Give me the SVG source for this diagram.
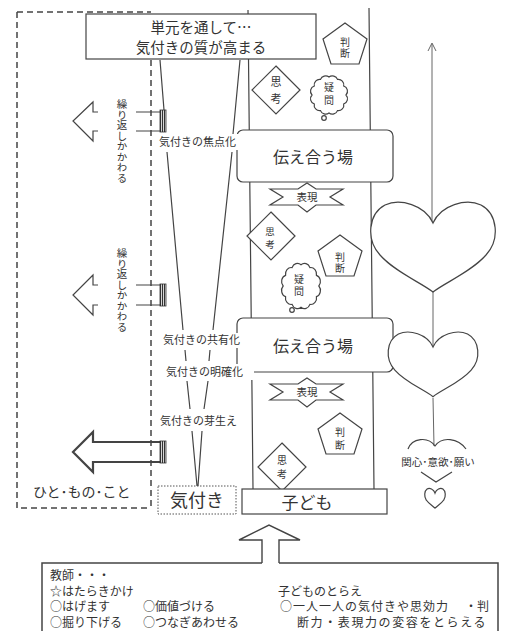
<svg xmlns="http://www.w3.org/2000/svg" xmlns:xlink="http://www.w3.org/1999/xlink" width="507" height="631" viewBox="0 0 507 631">
<style>
.ln{stroke:#444;stroke-width:1.2;fill:none}
.thin{stroke:#666;stroke-width:1;fill:none}
.box{fill:#fff;stroke:#444;stroke-width:1.2}
.shp{fill:#fff;stroke:#444;stroke-width:1.2}
.dash{stroke:#444;stroke-width:1.5;stroke-dasharray:6 4;fill:none}
.t{font-family:"Noto Sans CJK JP","Noto Sans CJK SC",sans-serif;fill:#333}
.c{text-anchor:middle}
.v{writing-mode:vertical-rl}
.wb{fill:#fff;stroke:none}
</style>
<defs>
<pattern id="hatch" width="2" height="4" patternUnits="userSpaceOnUse"><rect width="1.2" height="4" fill="#333"/></pattern>
<path id="heart" vector-effect="non-scaling-stroke" d="M0,0 C-8,-18 -33,-25 -48,-18 C-65,-9 -67,17 -53,32 C-38,49 -13,59 0,69 C13,59 38,49 53,32 C67,17 65,-9 48,-18 C33,-25 8,-18 0,0 Z"/>
<path id="cloud" vector-effect="non-scaling-stroke" d="M17,0 A5.5,5.5 0 0 1 14.7,9 A5.5,5.5 0 0 1 8.5,15.6 A5.5,5.5 0 0 1 0,18 A5.5,5.5 0 0 1 -8.5,15.6 A5.5,5.5 0 0 1 -14.7,9 A5.5,5.5 0 0 1 -17,0 A5.5,5.5 0 0 1 -14.7,-9 A5.5,5.5 0 0 1 -8.5,-15.6 A5.5,5.5 0 0 1 0,-18 A5.5,5.5 0 0 1 8.5,-15.6 A5.5,5.5 0 0 1 14.7,-9 A5.5,5.5 0 0 1 17,0 Z"/>
<path id="diamond" d="M0,-24 L24,0 L0,24 L-24,0 Z"/>
<path id="penta" d="M0,0 L22,16 L14,41 L-14,41 L-22,16 Z"/>
<path id="ribbon" d="M-37,-8 L-9,-8 L0,-14 L9,-8 L36,-8 L23,0 L36,8 L9,8 L0,15 L-9,8 L-37,8 L-24,0 Z"/>
</defs>

<g id="frame">
<path class="dash" d="M17,12 L151,12 M17,12 L17,508 L151,508 M151,60 L151,508"/>
</g>

<g id="column">
<path class="ln" d="M248,10 L253,489 M369,8 L374,489"/>
</g>

<g id="connectors">
<path class="ln" d="M160,60 L164,110 M240,60 L233,134 M167,152 L183,330 M232,152 L213,330 M185,350 L186,361 M210,350 L209,361 M187,381 L190,409 M208,381 L204,409 M192,431 L197,486 M202,431 L198,486"/>
<path class="thin" d="M432,44 L432,223 M428,51 L432,43 L436,51 M433,292 L433,347 M433,398 L434,446"/>
</g>

<g id="top-box">
<rect class="box" x="86" y="14" width="230" height="45"/>
<text class="t c" x="201" y="33" font-size="14.5">単元を通して…</text>
<text class="t c" x="201" y="53" font-size="14.5">気付きの質が高まる</text>
</g>

<g id="tsutae1">
<rect class="box" x="237" y="130" width="156" height="52" rx="6"/>
<text class="t c" x="313" y="163" font-size="16">伝え合う場</text>
</g>

<g id="tsutae2">
<rect class="box" x="237" y="318" width="156" height="54" rx="6"/>
<text class="t c" x="313" y="352" font-size="16">伝え合う場</text>
</g>

<g id="labels">
<rect class="wb" x="157" y="134" width="82" height="16"/>
<text class="t" x="159" y="146" font-size="11">気付きの焦点化</text>
<rect class="wb" x="161" y="333" width="82" height="15"/>
<text class="t" x="163" y="344" font-size="11">気付きの共有化</text>
<rect class="wb" x="164" y="364" width="90" height="16"/>
<text class="t" x="166" y="376" font-size="11">気付きの明確化</text>
<text class="t" x="160" y="425" font-size="11">気付きの芽生え</text>
<text class="t v" x="122" y="99" font-size="10.5">繰り返しかかわる</text>
<text class="t v" x="122" y="248" font-size="10.5">繰り返しかかわる</text>
<text class="t" x="33" y="497" font-size="14">ひと･もの･こと</text>
</g>

<g id="arrows-left">
<path class="ln" d="M98,112 L93,112 L93,102 L73,121 L93,141 L93,131 L98,131 M136,112 L160,112 M136,131 L160,131"/>
<rect x="160" y="110" width="6" height="22" fill="url(#hatch)" stroke="#333" stroke-width="0.8"/>
<path class="ln" d="M98,285 L93,285 L93,275 L73,295 L93,315 L93,305 L98,305 M136,285 L160,285 M136,305 L160,305"/>
<rect x="160" y="284" width="6" height="22" fill="url(#hatch)" stroke="#333" stroke-width="0.8"/>
<path class="ln" style="stroke-width:2.2" d="M160,442 L93,442 L93,432 L73,452 L93,472 L93,462 L160,462"/>
<rect x="160" y="441" width="6" height="22" fill="url(#hatch)" stroke="#333" stroke-width="0.8"/>
</g>

<g id="think-top">
<use href="#penta" class="shp" transform="translate(345,23)"/>
<text class="t v" x="345" y="37" font-size="10" letter-spacing="1.5">判断</text>
<use href="#diamond" class="shp" transform="translate(276,90)"/>
<text class="t v" x="276" y="76.5" font-size="11" letter-spacing="6">思考</text>
<use href="#cloud" class="shp" transform="translate(329,95)"/>
<circle class="shp" cx="324" cy="118" r="2.3"/>
<text class="t v" x="329" y="82" font-size="10" letter-spacing="3">疑問</text>
</g>

<g id="think-mid">
<use href="#ribbon" class="shp" transform="translate(307,197)"/>
<text class="t c" x="307" y="201" font-size="10.5">表現</text>
<use href="#diamond" class="shp" transform="translate(271,236)"/>
<text class="t v" x="270" y="227" font-size="9.5" letter-spacing="3">思考</text>
<use href="#penta" class="shp" transform="translate(340,235)"/>
<text class="t v" x="340" y="252" font-size="10" letter-spacing="1.5">判断</text>
<use href="#cloud" class="shp" transform="translate(301,286) scale(1.05,1.18)"/>
<circle class="shp" cx="292" cy="310" r="2.3"/>
<text class="t v" x="299" y="274" font-size="10" letter-spacing="2">疑問</text>
</g>

<g id="think-bottom">
<use href="#ribbon" class="shp" transform="translate(307,392)"/>
<text class="t c" x="307" y="396" font-size="10.5">表現</text>
<use href="#penta" class="shp" transform="translate(340,413)"/>
<text class="t v" x="340" y="427" font-size="10" letter-spacing="3">判断</text>
<use href="#diamond" class="shp" transform="translate(282,467)"/>
<text class="t v" x="282" y="455" font-size="10" letter-spacing="4">思考</text>
</g>

<g id="kizuki">
<rect x="158" y="486" width="78" height="28" fill="#fff" stroke="#555" stroke-width="1" stroke-dasharray="1.5 1.5"/>
<text class="t c" x="197" y="507" font-size="18">気付き</text>
</g>

<g id="kodomo">
<rect class="box" x="242" y="489" width="145" height="25"/>
<text class="t c" x="307" y="509" font-size="17">子ども</text>
</g>

<g id="hearts">
<use href="#heart" class="shp" transform="translate(433,223)"/>
<use href="#heart" class="shp" transform="translate(433,347) scale(0.72)"/>
<path class="ln" d="M408,449 C412,438 428,436 435,446 C442,436 458,438 466,449 M421,472 L436,482 L452,472"/>
<text class="t c" x="438" y="466" font-size="10.5">関心･意欲･願い</text>
<use href="#heart" class="shp" transform="translate(435,493) scale(0.165,0.22)"/>
</g>

<g id="up-arrow">
<path class="ln" style="stroke-width:1.4" d="M262,563 L262,540 L239,540 L269,525 L300,540 L279,540 L279,563"/>
</g>

<g id="teacher-box">
<path class="ln" style="stroke-width:1.5" d="M262,563 L42,563 L42,640 M279,563 L498,563 L498,640"/>
<text class="t" x="50" y="580" font-size="12">教師・・・</text>
<text class="t" x="50" y="595.5" font-size="12">☆はたらきかけ</text>
<text class="t" x="50" y="611" font-size="12">○はげます</text>
<text class="t" x="143" y="611" font-size="12">○価値づける</text>
<text class="t" x="50" y="626.5" font-size="12">○掘り下げる</text>
<text class="t" x="143" y="626.5" font-size="12">○つなぎあわせる</text>
<text class="t" x="278" y="595.5" font-size="12">子どものとらえ</text>
<text class="t" x="280" y="611" font-size="12" letter-spacing="1">○一人一人の気付きや思効力</text>
<text class="t" x="465" y="611" font-size="12">・判</text>
<text class="t" x="297" y="626.5" font-size="12" letter-spacing="1.6">断力・表現力の変容をとらえる</text>
</g>
</svg>
